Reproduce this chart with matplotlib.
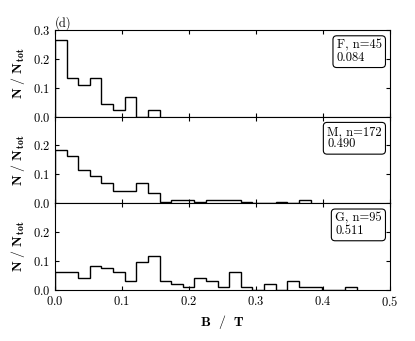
import numpy as np
import matplotlib
matplotlib.use("Agg")
import matplotlib.pyplot as plt

plt.rcParams["font.family"] = "serif"
plt.rcParams["font.serif"] = ["cmr10", "DejaVu Serif"]
plt.rcParams["mathtext.fontset"] = "cm"
plt.rcParams["axes.formatter.use_mathtext"] = True

# bin width in tesla
bin_w = 0.01733

# fraction of each group per bin
frac_F = [0.267, 0.133, 0.111, 0.133, 0.044, 0.022, 0.067, 0.0, 0.022]
frac_M = [0.186, 0.163, 0.116, 0.093, 0.070, 0.041, 0.041, 0.070, 0.035, 0.006,
          0.012, 0.012, 0.006, 0.012, 0.012, 0.012, 0.006, 0.0, 0.0, 0.006,
          0.0, 0.012]
frac_G = [0.063, 0.063, 0.042, 0.084, 0.074, 0.063, 0.032, 0.095, 0.116, 0.032,
          0.021, 0.011, 0.042, 0.032, 0.011, 0.063, 0.011, 0.0, 0.021, 0.0,
          0.032, 0.011, 0.011, 0.0, 0.0, 0.011]

labels = ["F, n=45\n0.084", "M, n=172\n0.490", "G, n=95\n0.511"]
xticks = [0.0, 0.1, 0.2, 0.3, 0.4, 0.5]

fig, axes = plt.subplots(3, 1, sharex=True, figsize=(4.15, 3.41), dpi=100)
fig.subplots_adjust(left=0.1325, right=0.94, top=0.912, bottom=0.15, hspace=0)

for i, (ax, vals, lab) in enumerate(zip(axes, [frac_F, frac_M, frac_G], labels)):
    edges = np.arange(len(vals) + 1) * bin_w
    ax.stairs(vals, edges, color="k", linewidth=1.0, baseline=0)
    ax.set_xlim(0, 0.5)
    ax.set_ylim(0, 0.3)
    if i == 0:
        ax.set_yticks([0.0, 0.1, 0.2, 0.3])
    else:
        ax.set_yticks([0.0, 0.1, 0.2])
    ax.set_xticks(xticks)
    ax.tick_params(direction="in", top=True, right=True, labelsize=9, length=3)
    ax.set_ylabel(r"$\mathbf{N\ /\ N_{tot}}$", fontsize=10, labelpad=4)
    ax.text(0.975, 0.89, lab, transform=ax.transAxes, ha="right", va="top",
            multialignment="left", fontsize=9, linespacing=1.0,
            bbox=dict(boxstyle="round,pad=0.3", fc="white", ec="k", lw=0.8))
    for s in ax.spines.values():
        s.set_linewidth(0.8)

axes[0].text(0.0, 1.0, "(d)", transform=axes[0].transAxes, ha="left", va="bottom",
             fontsize=9)
axes[-1].set_xlabel(r"$\mathbf{B\ \ /\ \ T}$", fontsize=10, labelpad=3)

fig.savefig("out.png", dpi=100)
